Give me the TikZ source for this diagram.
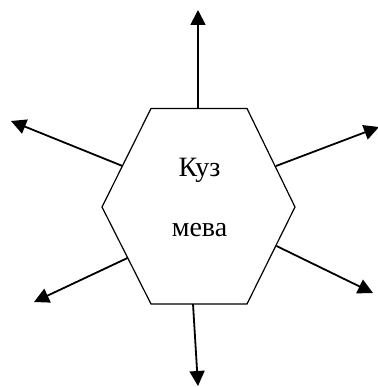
\documentclass[tikz,border=0pt]{standalone}
\usepackage{fontspec}
\setmainfont{Liberation Serif}
\usetikzlibrary{arrows.meta}
\tikzset{
  hexline/.style={line width=1.2pt, line join=miter},
  outarrow/.style={line width=1.8pt, -{Triangle[length=15pt,width=15pt]}},
  hextext/.style={font=\fontsize{28}{33}\selectfont, anchor=base, inner sep=0pt}
}
\begin{document}
\begin{tikzpicture}[x=1pt,y=-1pt]
\useasboundingbox (0,0) rectangle (377,387);
% hexagon corners
\coordinate (tl) at (151,108.5);
\coordinate (tr) at (247,108.5);
\coordinate (r) at (295,207);
\coordinate (br) at (247,304);
\coordinate (bl) at (151,304);
\coordinate (l) at (102,207);
\draw[hexline] (tl) -- (tr) -- (r) -- (br) -- (bl) -- (l) -- cycle;
% text
\node[hextext] (t1) at (199.5,176) {Куз};
\node[hextext] (t2) at (199.5,236) {мева};
% arrow start points on the hexagon
\coordinate (sTop) at (198,108.5);
\coordinate (sUL) at (122.5,166);
\coordinate (sUR) at (276,166);
\coordinate (sLL) at (127.5,258);
\coordinate (sLR) at (276.5,246);
\coordinate (sBot) at (193,304);
% arrow end points
\coordinate (eTop) at (198,10);
\coordinate (eUL) at (11,121);
\coordinate (eUR) at (379,127);
\coordinate (eLL) at (34,302);
\coordinate (eLR) at (373,293);
\coordinate (eBot) at (198,386);
\draw[outarrow] (sTop) -- (eTop);
\draw[outarrow] (sUL) -- (eUL);
\draw[outarrow] (sUR) -- (eUR);
\draw[outarrow] (sLL) -- (eLL);
\draw[outarrow] (sLR) -- (eLR);
\draw[outarrow] (sBot) -- (eBot);
\end{tikzpicture}
\end{document}
